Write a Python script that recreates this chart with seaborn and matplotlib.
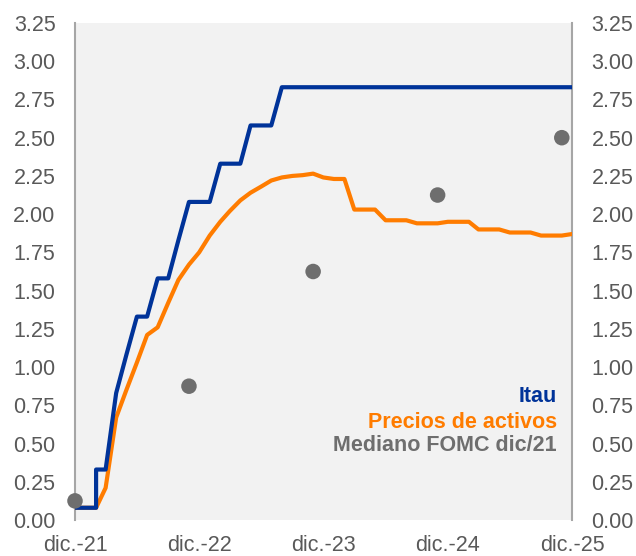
import matplotlib
matplotlib.use("Agg")
import matplotlib.pyplot as plt
import pandas as pd
import seaborn as sns

# Monthly horizon: Dec-2021 .. Dec-2025
months = pd.date_range("2021-12-01", periods=49, freq="MS")

# Itau projection for the Fed funds rate (%); the Feb-22 hike is a vertical step
itau_dates = list(months[:3]) + list(months[2:])
itau_vals = [0.08, 0.08, 0.08, 0.33, 0.33, 0.83, 1.08, 1.33, 1.33, 1.58,
             1.58, 1.83, 2.08, 2.08, 2.08, 2.33, 2.33, 2.33, 2.58, 2.58,
             2.58, 2.83, 2.83, 2.83, 2.83, 2.83, 2.83, 2.83, 2.83, 2.83,
             2.83, 2.83, 2.83, 2.83, 2.83, 2.83, 2.83, 2.83, 2.83, 2.83,
             2.83, 2.83, 2.83, 2.83, 2.83, 2.83, 2.83, 2.83, 2.83, 2.83]

# Rate path implied by asset prices (%)
precios_vals = [0.08, 0.08, 0.08, 0.21, 0.67, 0.85, 1.03, 1.21, 1.26, 1.42,
                1.57, 1.67, 1.75, 1.86, 1.95, 2.02, 2.09, 2.14, 2.18, 2.22,
                2.24, 2.25, 2.255, 2.265, 2.24, 2.23, 2.23, 2.03, 2.03, 2.03,
                1.96, 1.96, 1.96, 1.94, 1.94, 1.94, 1.95, 1.95, 1.95, 1.90,
                1.90, 1.90, 1.88, 1.88, 1.88, 1.86, 1.86, 1.86, 1.87]

# FOMC median dots (Dec-21 SEP)
fomc_dates = pd.to_datetime(["2021-12-01", "2022-11-01", "2023-11-01",
                             "2024-11-01", "2025-11-01"])
fomc_vals = [0.125, 0.875, 1.625, 2.125, 2.5]

y_ticks = [0.0, 0.25, 0.5, 0.75, 1.0, 1.25, 1.5, 1.75, 2.0, 2.25, 2.5,
           2.75, 3.0, 3.25]
x_tick_dates = pd.to_datetime(["2021-12-01", "2022-12-01", "2023-12-01",
                               "2024-12-01", "2025-12-01"])
x_tick_labels = ["dic.-21", "dic.-22", "dic.-23", "dic.-24", "dic.-25"]

series_labels = ["Itau", "Precios de activos", "Mediano FOMC dic/21"]

BLUE = "#003399"
ORANGE = "#FF7C00"
GREY_DOT = "#6E6E6E"
TEXT = "#595959"

sns.set_style("white")
plt.rcParams["font.family"] = ["Liberation Sans", "DejaVu Sans"]

fig = plt.figure(figsize=(6.36, 5.56), dpi=100)
ax = fig.add_axes([75 / 636, 1 - 520 / 556, 497 / 636, 497 / 556])
ax.set_facecolor("#F2F2F2")

itau_df = pd.DataFrame({"fecha": itau_dates, "tasa": itau_vals})
precios_df = pd.DataFrame({"fecha": months, "tasa": precios_vals})
fomc_df = pd.DataFrame({"fecha": fomc_dates, "tasa": fomc_vals})

sns.lineplot(data=precios_df, x="fecha", y="tasa", ax=ax, color=ORANGE,
             linewidth=3.0, estimator=None, sort=False, zorder=3)
sns.lineplot(data=itau_df, x="fecha", y="tasa", ax=ax, color=BLUE,
             linewidth=3.0, estimator=None, sort=False, zorder=4)
sns.scatterplot(data=fomc_df, x="fecha", y="tasa", ax=ax, color=GREY_DOT,
                s=125, edgecolor="none", zorder=5, clip_on=False)

ax.set_xlim(x_tick_dates[0], x_tick_dates[-1])
ax.set_ylim(0, 3.25)
ax.set_yticks(y_ticks)
ax.set_yticklabels([f"{v:.2f}" for v in y_ticks])
ax.set_xticks(x_tick_dates)
ax.set_xticklabels(x_tick_labels)
ax.set_xlabel("")
ax.set_ylabel("")

ax.tick_params(axis="both", length=0, labelsize=15.5, labelcolor=TEXT)
ax.tick_params(axis="y", labelright=True, pad=14)
ax.tick_params(axis="x", pad=11)

for side in ["top", "bottom"]:
    ax.spines[side].set_visible(False)
for side in ["left", "right"]:
    ax.spines[side].set_visible(True)
    ax.spines[side].set_color("#A6A6A6")
    ax.spines[side].set_linewidth(1.5)

for label, color, yy in zip(series_labels, [BLUE, ORANGE, GREY_DOT],
                            [0.2475, 0.197, 0.149]):
    ax.text(0.970, yy, label, transform=ax.transAxes, ha="right",
            va="center", fontsize=15.5, fontweight="bold", color=color)

fig.savefig("out.png", dpi=100)
